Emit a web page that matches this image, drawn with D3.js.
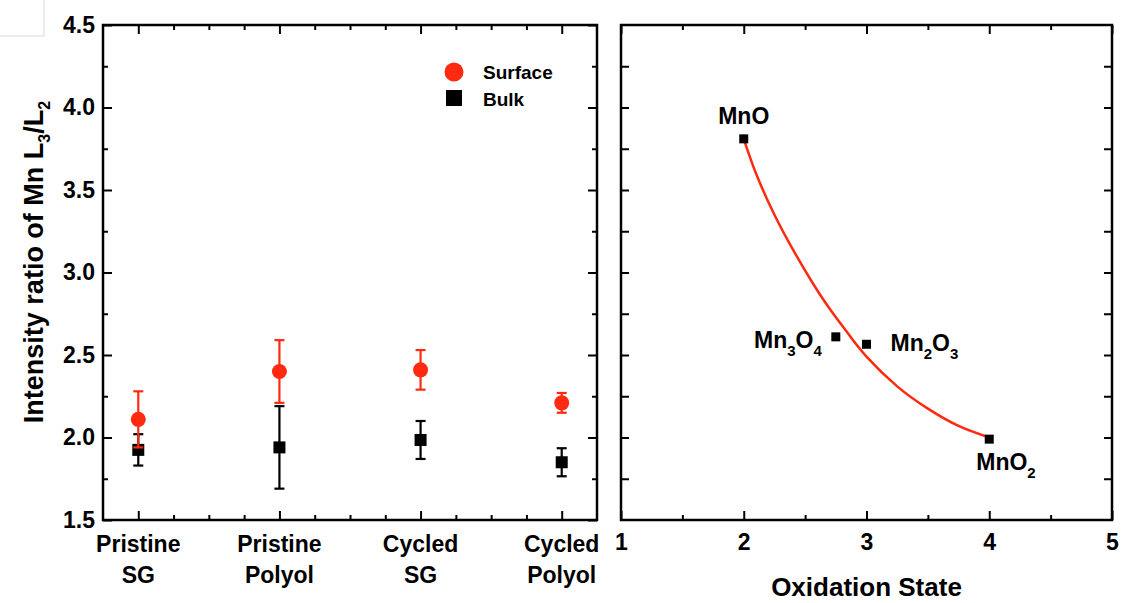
<!DOCTYPE html>
<html>
<head>
<meta charset="utf-8">
<script src="https://cdn.jsdelivr.net/npm/d3@7"></script>
<style>
  html, body { margin: 0; padding: 0; background: #fff; }
  svg { display: block; }
  text { font-family: "Liberation Sans", Arial, sans-serif; font-weight: bold; fill: #000; }
</style>
</head>
<body>
<svg id="chart" width="1125" height="603"></svg>
<script>
// ---------- data ----------
const categories = [["Pristine", "SG"], ["Pristine", "Polyol"], ["Cycled", "SG"], ["Cycled", "Polyol"]];
const categoryPos = [1, 2, 3, 4];
const surface = [2.11, 2.40, 2.41, 2.21];
const surfaceErr = [0.17, 0.19, 0.12, 0.06];
const bulk = [1.925, 1.94, 1.985, 1.85];
const bulkErr = [0.095, 0.25, 0.115, 0.085];

const yTickLabels = ["1.5", "2.0", "2.5", "3.0", "3.5", "4.0", "4.5"];
const xTickLabelsRight = ["1", "2", "3", "4", "5"];

const oxides = [["Mn", "", "O", ""], ["Mn", "3", "O", "4"], ["Mn", "2", "O", "3"], ["Mn", "", "O", "2"]];
const oxState = [2, 2.75, 3, 4];
const oxRatio = [3.81, 2.61, 2.565, 1.99];

const fitX = [2.0, 2.1, 2.25, 2.4, 2.55, 2.7, 2.85, 3.0, 3.25, 3.5, 3.75, 4.0];
const fitY = [3.81, 3.60, 3.35, 3.14, 2.95, 2.78, 2.63, 2.49, 2.31, 2.175, 2.07, 2.00];

const legendLabels = ["Surface", "Bulk"];

// ---------- styles ----------
const RED = "#ff2a10";
const svg = d3.select("#chart");

// faint artifact box at top-left
svg.append("path").attr("d", "M44,0V36H0").attr("fill", "none").attr("stroke", "#d8d8d8").attr("stroke-width", 1);

// ---------- scales ----------
const yS = d3.scaleLinear().domain([1.5, 4.5]).range([520, 25]);
const xL = d3.scaleLinear().domain([0.75, 4.25]).range([103, 597]);
const xR = d3.scaleLinear().domain([1, 5]).range([621, 1112]);

const yMajor = yTickLabels.map(Number);
const yMinor = d3.range(1.75, 4.5, 0.5);
const yAll = d3.range(1.5, 4.5001, 0.25);

function styleAxis(g, fs) {
  g.select(".domain").remove();
  g.selectAll(".tick line").attr("stroke", "#000").attr("stroke-width", 2);
  g.selectAll(".tick text").style("font-size", fs + "px");
}

// ---------- LEFT PANEL ----------
const L = svg.append("g");
L.append("g").attr("transform", "translate(103,0)")
  .call(d3.axisLeft(yS).tickValues(yMajor).tickFormat(d3.format(".1f")).tickSize(-9).tickPadding(8))
  .call(g => styleAxis(g, 23));
L.append("g").attr("transform", "translate(103,0)")
  .call(d3.axisLeft(yS).tickValues(yMinor).tickFormat("").tickSize(-5))
  .call(g => styleAxis(g, 23));
L.append("g").attr("transform", "translate(597,0)")
  .call(d3.axisRight(yS).tickValues(yMajor).tickFormat("").tickSize(-9))
  .call(g => styleAxis(g, 23));
L.append("g").attr("transform", "translate(597,0)")
  .call(d3.axisRight(yS).tickValues(yMinor).tickFormat("").tickSize(-5))
  .call(g => styleAxis(g, 23));
const xLMinor = d3.range(1.25, 4.0, 0.25).filter(v => Math.abs(v - Math.round(v)) > 1e-6);
[["axisBottom", 520], ["axisTop", 25]].forEach(([fn, y]) => {
  L.append("g").attr("transform", `translate(0,${y})`)
    .call(d3[fn](xL).tickValues(categoryPos).tickFormat("").tickSize(-9))
    .call(g => styleAxis(g, 23));
  L.append("g").attr("transform", `translate(0,${y})`)
    .call(d3[fn](xL).tickValues(xLMinor).tickFormat("").tickSize(-5))
    .call(g => styleAxis(g, 23));
});
categories.forEach((c, i) => {
  const t = L.append("text").attr("text-anchor", "middle").style("font-size", "23px");
  t.append("tspan").attr("x", xL(categoryPos[i])).attr("y", 552).text(c[0]);
  t.append("tspan").attr("x", xL(categoryPos[i])).attr("y", 583).text(c[1]);
});
L.append("rect").attr("x", 103).attr("y", 25).attr("width", 597 - 103).attr("height", 520 - 25)
  .attr("fill", "none").attr("stroke", "#000").attr("stroke-width", 2.5);

// y title
const yt = svg.append("text").attr("text-anchor", "middle")
  .attr("transform", "translate(43,262) rotate(-90)").style("font-size", "27px");
yt.append("tspan").text("Intensity ratio of Mn L");
yt.append("tspan").attr("dy", 7).style("font-size", "16px").text("3");
yt.append("tspan").attr("dy", -7).text("/L");
yt.append("tspan").attr("dy", 7).style("font-size", "16px").text("2");

function errBars(g, vals, errs, color) {
  vals.forEach((v, i) => {
    const x = xL(categoryPos[i]);
    const y1 = yS(v + errs[i]), y2 = yS(v - errs[i]);
    g.append("line").attr("x1", x).attr("x2", x).attr("y1", y1).attr("y2", y2)
      .attr("stroke", color).attr("stroke-width", 2.2);
    [y1, y2].forEach(yy => g.append("line").attr("x1", x - 5).attr("x2", x + 5).attr("y1", yy).attr("y2", yy)
      .attr("stroke", color).attr("stroke-width", 2.2));
  });
}
const dataG = L.append("g");
errBars(dataG, bulk, bulkErr, "#000");
dataG.selectAll("rect.bulk").data(bulk).join("rect").attr("class", "bulk")
  .attr("x", (d, i) => xL(categoryPos[i]) - 6).attr("y", d => yS(d) - 6)
  .attr("width", 12).attr("height", 12).attr("fill", "#000");
errBars(dataG, surface, surfaceErr, RED);
dataG.selectAll("circle.surf").data(surface).join("circle").attr("class", "surf")
  .attr("cx", (d, i) => xL(categoryPos[i])).attr("cy", d => yS(d)).attr("r", 7.5).attr("fill", RED);

// legend
const lg = svg.append("g");
lg.append("circle").attr("cx", 454).attr("cy", 72).attr("r", 9.5).attr("fill", RED);
lg.append("rect").attr("x", 446).attr("y", 90).attr("width", 16).attr("height", 16).attr("fill", "#000");
legendLabels.forEach((s, i) => lg.append("text").attr("x", 483).attr("y", 79 + i * 27).style("font-size", "19px").text(s));

// ---------- RIGHT PANEL ----------
const R = svg.append("g");
[["axisLeft", 621], ["axisRight", 1112]].forEach(([fn, x]) => {
  R.append("g").attr("transform", `translate(${x},0)`)
    .call(d3[fn](yS).tickValues(yAll.slice(1, -1)).tickFormat("").tickSize(-8))
    .call(g => styleAxis(g, 23));
});
const xRMajor = xTickLabelsRight.map(Number);
const xRMinor = d3.range(1.5, 5, 1);
R.append("g").attr("transform", "translate(0,520)")
  .call(d3.axisBottom(xR).tickValues(xRMajor).tickFormat((d, i) => xTickLabelsRight[i]).tickSize(-9).tickPadding(14))
  .call(g => styleAxis(g, 23));
R.append("g").attr("transform", "translate(0,520)")
  .call(d3.axisBottom(xR).tickValues(xRMinor).tickFormat("").tickSize(-5))
  .call(g => styleAxis(g, 23));
R.append("g").attr("transform", "translate(0,25)")
  .call(d3.axisTop(xR).tickValues(xRMajor).tickFormat("").tickSize(-9))
  .call(g => styleAxis(g, 23));
R.append("g").attr("transform", "translate(0,25)")
  .call(d3.axisTop(xR).tickValues(xRMinor).tickFormat("").tickSize(-5))
  .call(g => styleAxis(g, 23));
R.append("rect").attr("x", 621).attr("y", 25).attr("width", 1112 - 621).attr("height", 520 - 25)
  .attr("fill", "none").attr("stroke", "#000").attr("stroke-width", 2.5);

svg.append("text").attr("x", (621 + 1112) / 2).attr("y", 596).attr("text-anchor", "middle")
  .style("font-size", "26px").text("Oxidation State");

const fitPts = fitX.map((x, i) => [x, fitY[i]]);
R.append("path").datum(fitPts)
  .attr("d", d3.line().x(d => xR(d[0])).y(d => yS(d[1])).curve(d3.curveNatural))
  .attr("fill", "none").attr("stroke", RED).attr("stroke-width", 2.5);

R.selectAll("rect.ox").data(oxRatio).join("rect").attr("class", "ox")
  .attr("x", (d, i) => xR(oxState[i]) - 4.5).attr("y", d => yS(d) - 4.5)
  .attr("width", 9).attr("height", 9).attr("fill", "#000");

const labelOffsets = [
  { dx: 0, dy: -15, anchor: "middle" },
  { dx: -14, dy: 11, anchor: "end" },
  { dx: 24, dy: 7, anchor: "start" },
  { dx: -13, dy: 31, anchor: "start" }
];
oxides.forEach((parts, i) => {
  const o = labelOffsets[i];
  const t = R.append("text").attr("x", xR(oxState[i]) + o.dx).attr("y", yS(oxRatio[i]) + o.dy)
    .attr("text-anchor", o.anchor).style("font-size", "23px");
  t.append("tspan").text(parts[0]);
  if (parts[1]) t.append("tspan").attr("dy", 8).style("font-size", "15px").text(parts[1]);
  t.append("tspan").attr("dy", parts[1] ? -8 : 0).text(parts[2]);
  if (parts[3]) t.append("tspan").attr("dy", 8).style("font-size", "15px").text(parts[3]);
});
</script>
</body>
</html>
